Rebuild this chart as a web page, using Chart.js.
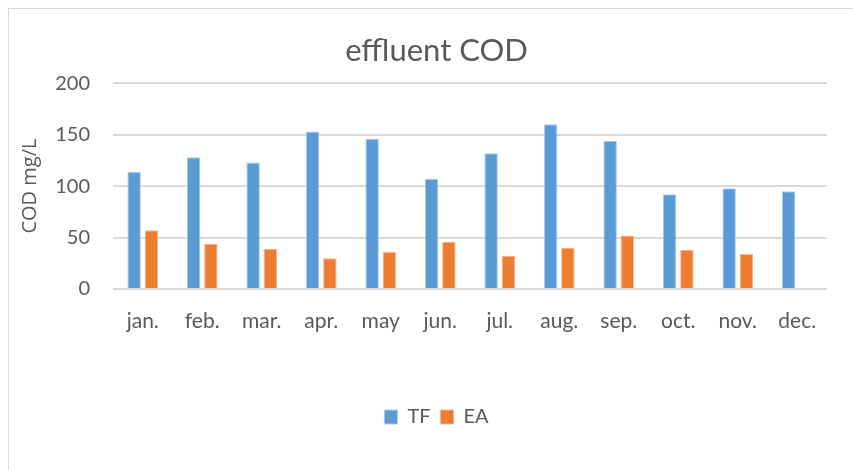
<!DOCTYPE html>
<html>
<head>
<meta charset="utf-8">
<script src="https://cdn.jsdelivr.net/npm/chart.js@4"></script>
<style>
  body { margin: 0; background: #fff; }
  #wrap { position: relative; width: 853px; height: 470px; overflow: hidden; }
  #frame { position: absolute; left: 8px; top: 8px; width: 900px; height: 500px; border: 1px solid #d9d9d9; }
  canvas { position: absolute; left: 0; top: 0; }
</style>
</head>
<body>
<div id="wrap">
  <div id="frame"></div>
  <canvas id="cod" width="853" height="470"></canvas>
</div>
<script>
// data
const months = ["jan.", "feb.", "mar.", "apr.", "may", "jun.", "jul.", "aug.", "sep.", "oct.", "nov.", "dec."];
const tfValues = [114, 128, 123, 153, 146, 107, 132, 160, 144, 92, 98, 95];
const eaValues = [57, 44, 39, 30, 36, 46, 32, 40, 52, 38, 34, null];
const yTicks = [0, 50, 100, 150, 200];

const textColor = "#595959";
const fontName = "Lato";

// title + legend are centred on the whole frame in the original, not the padded box
const shiftBlocks = {
  id: "shiftBlocks",
  afterLayout(chart) {
    chart.titleBlock.left = 46;
    chart.legend.left = 46;
  },
};

const ctx = document.getElementById("cod");
new Chart(ctx, {
  type: "bar",
  data: {
    labels: months,
    datasets: [
      {
        label: "TF",
        data: tfValues,
        backgroundColor: "#5b9bd5",
        borderColor: "#a9c9ea",
        borderWidth: 1,
        categoryPercentage: 0.58,
        barPercentage: 0.78,
      },
      {
        label: "EA",
        data: eaValues,
        backgroundColor: "#ed7d31",
        borderColor: "#f4b38a",
        borderWidth: 1,
        categoryPercentage: 0.58,
        barPercentage: 0.78,
      },
    ],
  },
  options: {
    responsive: false,
    animation: false,
    layout: { padding: { left: 10, right: 26, top: 18, bottom: 33 } },
    plugins: {
      title: {
        display: true,
        text: "effluent COD",
        color: textColor,
        font: { family: fontName, size: 31, weight: "normal" },
        padding: { top: 14, bottom: 14 },
      },
      legend: {
        position: "bottom",
        labels: {
          color: textColor,
          font: { family: fontName, size: 20 },
          boxWidth: 13,
          boxHeight: 14,
          padding: 10,
        },
      },
      tooltip: { enabled: false },
    },
    scales: {
      x: {
        grid: { display: false, drawTicks: false },
        border: { display: false },
        ticks: { color: textColor, font: { family: fontName, size: 21 }, padding: 20 },
        afterFit: (scale) => { scale.height = 108; },
      },
      y: {
        min: 0,
        max: 200,
        afterBuildTicks: (scale) => { scale.ticks = yTicks.map((v) => ({ value: v })); },
        grid: { color: "#d9d9d9", lineWidth: 2, drawTicks: false },
        border: { display: false },
        ticks: { color: textColor, font: { family: fontName, size: 20 }, padding: 23 },
        title: {
          display: true,
          text: "COD mg/L",
          color: textColor,
          font: { family: "Open Sans", size: 20 },
          padding: { top: 8, bottom: 0 },
        },
        afterFit: (scale) => { scale.width = 103; },
      },
    },
  },
  plugins: [shiftBlocks],
});
</script>
</body>
</html>
